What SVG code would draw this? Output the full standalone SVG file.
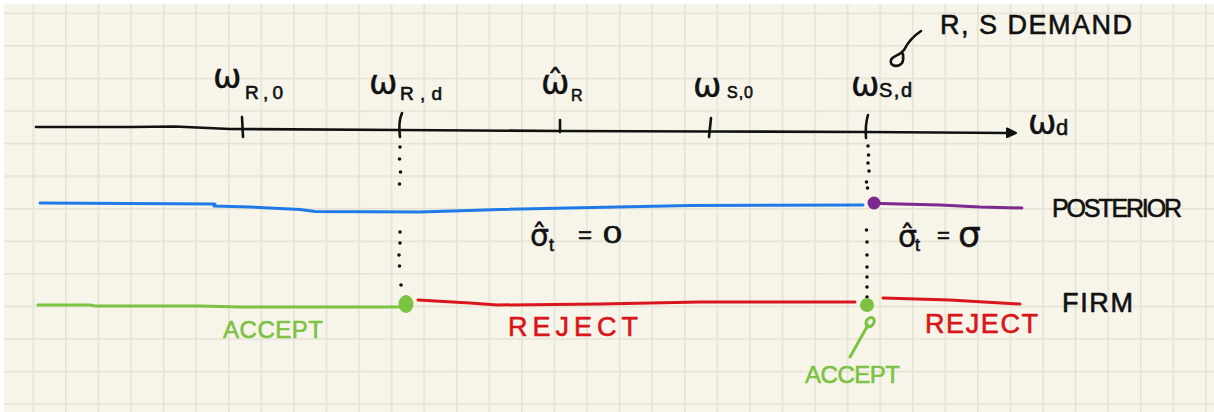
<svg xmlns="http://www.w3.org/2000/svg" width="1214" height="412" viewBox="0 0 1214 412">
  <defs>
    <pattern id="grid" x="32.5" y="12.5" width="32.57" height="32.57" patternUnits="userSpaceOnUse">
      <rect width="32.57" height="1.6" fill="#e5e2d5"/>
      <rect width="1.6" height="32.57" fill="#e5e2d5"/>
    </pattern>
    <style>
      .ink { fill: none; stroke-linecap: round; stroke-linejoin: round; }
      .k { stroke: #111; stroke-width: 2.6; }
      .blue { stroke: #1f7ae8; stroke-width: 3; }
      .purple { stroke: #7b2a8e; stroke-width: 3; }
      .green { stroke: #7cc243; stroke-width: 3; }
      .red { stroke: #d8161c; stroke-width: 3; }
      .dot { fill: #111; }
      .t { font-family: "Liberation Sans", "DejaVu Sans", sans-serif; stroke-width: 0.6; stroke-linejoin: round; }
      .m { font-family: "DejaVu Sans", "Liberation Sans", sans-serif; fill: #111; stroke: #111; stroke-width: 0.4; }
      .tk { fill: #111; stroke: #111; }
      .tg { fill: #7cc243; stroke: #7cc243; }
      .tr { fill: #d8161c; stroke: #d8161c; }
    </style>
  </defs>

  <rect width="1214" height="412" fill="#ffffff"/>
  <rect x="4" y="4" width="1210" height="408" fill="#f7f5ea"/>
  <rect x="4" y="4" width="1210" height="408" fill="url(#grid)"/>

  <g id="connectors">
    <!-- main axis with arrow -->
    <path class="ink k" d="M36 127 L130 127 L175 126.5 L230 129 L400 130 L560 131 L710 131.5 L866 132 L1008 133"/>
    <polygon points="1007,128.5 1016,133 1007,137" fill="#111" stroke="#111" stroke-width="2" stroke-linejoin="round"/>
    <!-- ticks -->
    <path class="ink k" d="M242 117 L243 137"/>
    <path class="ink k" d="M402 113 Q398 122 400 137"/>
    <path class="ink k" d="M560 120 L560 132"/>
    <path class="ink k" d="M711 118 L709 137"/>
    <path class="ink k" d="M868 115 Q865 125 866 138"/>
    <!-- dotted guides -->
    <g class="dot">
      <circle cx="400" cy="147" r="1.8"/><circle cx="399.5" cy="159" r="1.8"/><circle cx="400.5" cy="172" r="1.8"/><circle cx="399.5" cy="184" r="1.8"/>
      <circle cx="400" cy="232" r="1.8"/><circle cx="400" cy="243" r="1.8"/><circle cx="399" cy="255" r="1.8"/><circle cx="399.5" cy="266" r="1.8"/><circle cx="401" cy="285" r="1.8"/><circle cx="406" cy="297" r="1.5"/>
      <circle cx="868" cy="146" r="1.8"/><circle cx="868.5" cy="155" r="1.8"/><circle cx="868" cy="163" r="1.8"/><circle cx="869" cy="171" r="1.8"/><circle cx="866.5" cy="182" r="1.8"/><circle cx="867.5" cy="188" r="1.8"/>
      <circle cx="866.5" cy="230" r="1.8"/><circle cx="867" cy="242" r="1.8"/><circle cx="867" cy="255" r="1.8"/><circle cx="867" cy="267" r="1.8"/><circle cx="867" cy="277" r="1.8"/><circle cx="867" cy="287" r="1.8"/><circle cx="867" cy="297" r="1.8"/>
    </g>
    <!-- pointer to R,S demand -->
    <path class="ink k" d="M921 31 C915 35 908 42 904 50 C900 56 893 55 891 60 C889 66 898 68 902 63 C904 60 903 56 903 54"/>
    <!-- green accept arrow -->
    <path class="ink green" stroke-width="2.6" d="M850 357 L868 325"/>
    <path class="ink green" stroke-width="2.6" d="M867 327 C864 321 869 316 873 318 C876 321 873 327 868 327"/>
  </g>

  <g id="axis-labels">
    <text class="m" x="213" y="88" font-size="34">ω</text>
    <text class="t tk" x="245" y="99" font-size="19" textLength="38" lengthAdjust="spacing">R,0</text>

    <text class="m" x="369" y="94" font-size="34">ω</text>
    <text class="t tk" x="400" y="100" font-size="19" textLength="42" lengthAdjust="spacing">R,d</text>

    <text class="m" x="541" y="94" font-size="34">ω̂</text>
    <text class="t tk" x="571" y="101" font-size="16">R</text>

    <text class="m" x="693" y="97" font-size="34">ω</text>
    <text class="t tk" x="727" y="98" font-size="16" textLength="26" lengthAdjust="spacing">S,0</text>

    <text class="m" x="851" y="96" font-size="34">ω</text>
    <text class="t tk" x="879" y="97" font-size="20" textLength="33" lengthAdjust="spacing">S,d</text>

    <text class="m" x="1028" y="134" font-size="34">ω</text>
    <text class="t tk" x="1056" y="135" font-size="22">d</text>

    <text class="t tk" x="940" y="34" font-size="27" textLength="192" lengthAdjust="spacing">R, S DEMAND</text>
  </g>

  <g id="posterior">
    <path class="ink blue" d="M40 203 L215 204 L214 206 L250 207 L300 209.5 L315 211.5 L420 212 L500 209.5 L690 205.5 L863 205"/>
    <path class="ink purple" d="M880 203.5 L940 205 L980 207 L1022 208"/>
    <circle cx="874" cy="203" r="6.5" fill="#7b2a8e"/>
    <text class="m" x="530" y="246" font-size="30">σ̂</text>
    <text class="t tk" x="549" y="251" font-size="18">t</text>
    <text class="t tk" x="578" y="243" font-size="24">=</text>
    <text class="t tk" x="603" y="243" font-size="24" textLength="19" lengthAdjust="spacingAndGlyphs">0</text>
    <text class="m" x="898" y="247" font-size="30">σ̂</text>
    <text class="t tk" x="915" y="251" font-size="18">t</text>
    <text class="t tk" x="937" y="243" font-size="22">=</text>
    <text class="m" x="958" y="247" font-size="36">σ</text>
    <text class="t tk" x="1052" y="217" font-size="25" textLength="130" lengthAdjust="spacing">POSTERIOR</text>
  </g>

  <g id="firm">
    <path class="ink green" d="M38 305 L90 305 L95 306 L200 306 L240 307 L400 307"/>
    <ellipse cx="406" cy="304" rx="7.5" ry="9" fill="#7cc243"/>
    <path class="ink red" d="M418 300 L470 303 L497 305 L600 304 L700 302 L855 302"/>
    <circle cx="867" cy="305" r="7" fill="#7cc243"/>
    <path class="ink red" d="M883 298 L950 300 L1020 304"/>
    <text class="t tg" x="223" y="338" font-size="24" textLength="100" lengthAdjust="spacing">ACCEPT</text>
    <text class="t tr" x="508" y="336" font-size="27" textLength="130" lengthAdjust="spacing">REJECT</text>
    <text class="t tr" x="925" y="333" font-size="27" textLength="113" lengthAdjust="spacing">REJECT</text>
    <text class="t tg" x="805" y="383" font-size="24" textLength="95" lengthAdjust="spacing">ACCEPT</text>
    <text class="t tk" x="1062" y="312" font-size="27" textLength="71" lengthAdjust="spacing">FIRM</text>
  </g>
</svg>
